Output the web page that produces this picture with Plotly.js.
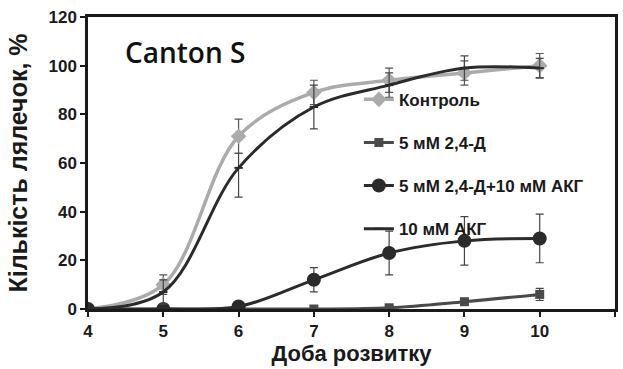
<!DOCTYPE html>
<html><head><meta charset="utf-8">
<script src="https://cdn.plot.ly/plotly-3.0.1.min.js"></script>
<style>body{margin:0;background:#fff}#c{width:623px;height:369px}</style>
</head><body><div id="c"></div>
<script>
const days = [4,5,6,7,8,9,10];
const control = [0,10,71,89,94,97,100];
const controlErr = [0,4,7,5,5,5,5];
const d24 = [0,0,0,0,0.5,3,6];
const d24Err = [0,0,0,0,0,1,2.5];
const d24akg = [0,0,1,12,23,28,29];
const d24akgErr = [0,0,0,5,9,10,10];
const akg = [0,7,58,83,92,99,99];
const akgErrPlus = [0,5,6,9,5,5,4];
const akgErrMinus = [0,5,12,9,5,5,4];
const names = ['Контроль','5 мМ 2,4-Д','5 мМ 2,4-Д+10 мМ АКГ','10 мМ АКГ'];

const errStyle = c => ({type:'data', color:c, thickness:1.2, width:4});
const traces = [
 {x:days,y:control,name:names[0],mode:'lines+markers',line:{shape:'spline',color:'#ababab',width:3.5},
  marker:{symbol:'diamond',size:12,color:'#ababab'},error_y:Object.assign({array:controlErr},errStyle('#555')),legendgroup:'a'},
 {x:days,y:d24,name:names[1],mode:'lines+markers',line:{shape:'spline',color:'#4a4a4a',width:3},
  marker:{symbol:'square',size:9,color:'#4a4a4a'},error_y:Object.assign({array:d24Err},errStyle('#444')),legendgroup:'b'},
 {x:days,y:d24akg,name:names[2],mode:'lines+markers',line:{shape:'spline',color:'#2b2b2b',width:3},
  marker:{symbol:'circle',size:14,color:'#2b2b2b'},error_y:Object.assign({array:d24akgErr},errStyle('#444')),legendgroup:'c'},
 {x:days,y:akg,name:names[3],mode:'lines+markers',line:{shape:'spline',color:'#2b2b2b',width:3},
  marker:{symbol:'line-ew',size:6,color:'#2b2b2b',line:{width:2,color:'#2b2b2b'}},
  error_y:Object.assign({symmetric:false,array:akgErrPlus,arrayminus:akgErrMinus},errStyle('#444')),legendgroup:'d'}
];
const layout = {
 width:623,height:369,margin:{l:88,r:8,t:17,b:60},
 paper_bgcolor:'#fff',plot_bgcolor:'#fff',
 font:{family:'Liberation Sans, Arial',color:'#1a1a1a'},
 xaxis:{range:[4,11],tickvals:[4,5,6,7,8,9,10,11],showline:true,linewidth:2.5,linecolor:'#1a1a1a',mirror:true,
   ticks:'outside',ticklen:5,tickwidth:2,tickcolor:'#1a1a1a',showgrid:false,zeroline:false,
   tickfont:{size:17,weight:'bold'},title:{text:'Доба розвитку',font:{size:22,weight:'bold'},standoff:2}},
 yaxis:{range:[0,120],tickvals:[0,20,40,60,80,100,120],showline:true,linewidth:2.5,linecolor:'#1a1a1a',mirror:true,
   ticks:'outside',ticklen:5,tickwidth:2,tickcolor:'#1a1a1a',showgrid:false,zeroline:false,
   tickfont:{size:17,weight:'bold'},title:{text:'Кількість лялечок, %',font:{size:25,weight:'bold'},standoff:14}},
 legend:{x:0.514,y:0.778,xanchor:'left',yanchor:'top',bgcolor:'rgba(0,0,0,0)',traceorder:'grouped',tracegroupgap:18,
   font:{size:17,weight:'bold',color:'#1a1a1a'}},
 annotations:[{text:'Canton S',xref:'paper',yref:'paper',x:0.067,y:0.88,xanchor:'left',yanchor:'middle',showarrow:false,
   font:{size:28,weight:600,family:'Open Sans, Liberation Sans',color:'#111'}}]
};
Plotly.newPlot('c',traces,layout,{displayModeBar:false});
</script></body></html>
